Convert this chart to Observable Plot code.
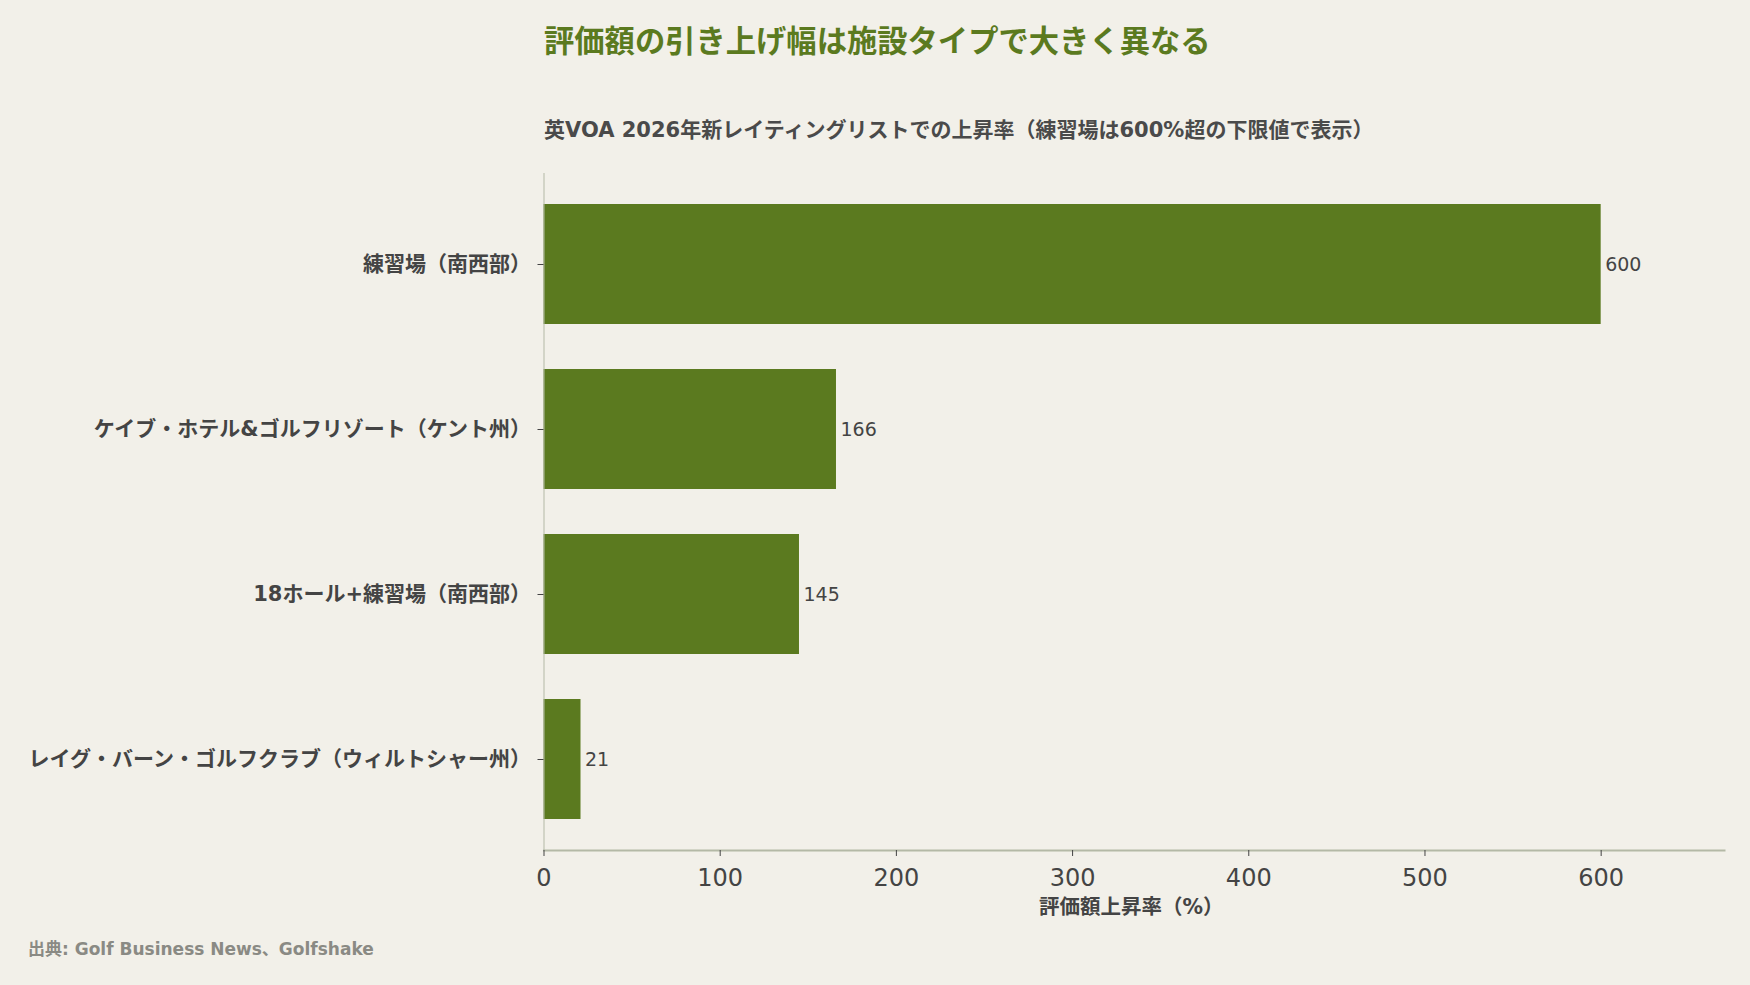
<!DOCTYPE html>
<html lang="ja">
<head>
<meta charset="utf-8">
<script src="https://cdn.jsdelivr.net/npm/d3@7"></script>
<script src="https://cdn.jsdelivr.net/npm/@observablehq/plot@0.6"></script>
<style>
  html, body { margin: 0; padding: 0; background: #f2f0e9; }
  body { width: 1750px; height: 985px; position: relative; overflow: hidden;
         font-family: "DejaVu Sans", "Noto Sans CJK JP", sans-serif; }
  #title { position: absolute; left: 544px; top: 19px; margin: 0; font-size: 30.3px; line-height: 40px;
           font-family: "Noto Sans CJK JP", sans-serif;
           font-weight: 700; color: #5b7a1f; white-space: nowrap; }
  #subtitle { position: absolute; left: 544px; top: 115px; margin: 0; font-size: 21px; line-height: 30px;
              font-weight: 700; color: #4a4a4a; white-space: nowrap; }
  #chart { position: absolute; left: 0; top: 155px; }
  #caption { position: absolute; left: 28px; top: 937px; font-size: 17px; line-height: 24px;
             color: #8a8a84; font-weight: 700; white-space: nowrap; }
</style>
</head>
<body>
<div id="title">評価額の引き上げ幅は施設タイプで大きく異なる</div>
<div id="subtitle">英VOA 2026年新レイティングリストでの上昇率（練習場は600%超の下限値で表示）</div>
<div id="chart"></div>
<div id="caption">出典: Golf Business News、Golfshake</div>
<script>
const categories = [
  "練習場（南西部）",
  "ケイブ・ホテル&ゴルフリゾート（ケント州）",
  "18ホール+練習場（南西部）",
  "レイグ・バーン・ゴルフクラブ（ウィルトシャー州）"
];
const values = [600, 166, 145, 21];
const xTicks = [0, 100, 200, 300, 400, 500, 600];
const xLabel = "評価額上昇率（%）";

const data = categories.map((c, i) => ({name: c, value: values[i]}));

const font = "DejaVu Sans, Noto Sans CJK JP, sans-serif";
const barColor = "#5b7a1f";
const axisColor = "#b4b9a6";
const textColor = "#444444";

const chart = Plot.plot({
  width: 1750,
  height: 780,
  marginTop: 18,
  marginBottom: 85,
  marginLeft: 543.5,
  marginRight: 26,
  style: {background: "transparent", fontFamily: font, color: textColor},
  x: {domain: [0, 670]},
  y: {domain: categories, paddingInner: 0.27, paddingOuter: 0.18},
  marks: [
    Plot.barX(data, {x: "value", y: "name", fill: barColor}),
    Plot.ruleX([0], {stroke: axisColor, strokeWidth: 1}),
    Plot.frame({anchor: "bottom", stroke: axisColor, strokeWidth: 2}),
    Plot.axisY({tickSize: 6, tickPadding: 7, fontSize: 21, fontWeight: 700, fill: textColor, stroke: textColor, label: null}),
    Plot.axisX({ticks: xTicks, tickSize: 6, tickPadding: 12, fontSize: 24, fill: textColor, stroke: textColor, label: null}),
    Plot.text([xLabel], {frameAnchor: "bottom", lineAnchor: "middle", dy: 57, dx: -3, fontSize: 20.5, fontWeight: 700, fill: textColor}),
    Plot.text(data, {x: "value", y: "name", text: d => String(d.value), dx: 4, textAnchor: "start", fontSize: 19, fill: textColor})
  ]
});
document.getElementById("chart").appendChild(chart);
</script>
</body>
</html>
